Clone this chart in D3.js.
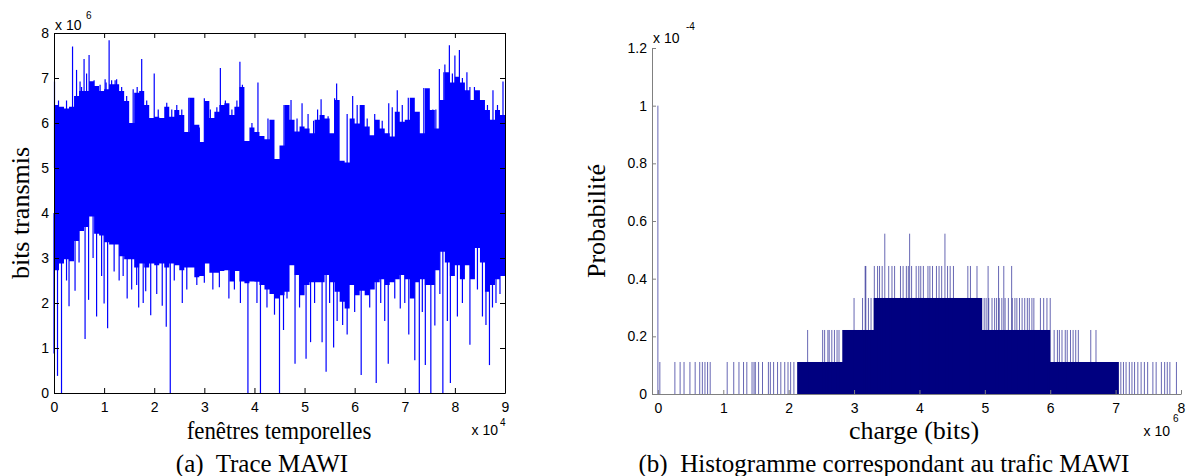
<!DOCTYPE html>
<html>
<head>
<meta charset="utf-8">
<script src="https://cdn.jsdelivr.net/npm/d3@7"></script>
<style>
  body { margin: 0; background: #fff; }
  text { white-space: pre; }
  .tick text { font-family: "Liberation Sans", Arial, sans-serif; font-size: 14px; fill: #000; }
  .lbl { font-family: "Liberation Serif", "Times New Roman", serif; fill: #000; }
</style>
</head>
<body>
<svg width="1187" height="476"></svg>
<script>
// ---------- (a) Trace MAWI : envelope of bits per 1000 windows (x in 1e4, y in 1e6)
let traceUpper = [6.4, 6.36, 6.32, 6.36, 6.6, 6.71, 6.71, 6.93, 6.82, 6.71,
  6.75, 6.86, 6.86, 6.71, 6.49, 6.0, 6.67, 6.71, 6.4, 6.11,
  6.14, 6.11, 6.36, 6.14, 6.29, 6.18, 5.8, 6.56, 5.96, 5.58,
  6.49, 6.11, 6.25, 6.4, 6.44, 6.18, 6.36, 6.8, 5.6, 5.9,
  5.8, 5.71, 5.64, 6.07, 5.2, 5.5, 6.4, 6.07, 5.81, 5.92,
  5.88, 5.77, 6.07, 6.18, 6.1, 5.77, 6.51, 5.16, 5.12, 6.1,
  5.99, 6.4, 5.92, 5.73, 6.07, 5.88, 5.77, 5.7, 6.25, 6.03,
  6.07, 6.56, 6.25, 5.77, 6.77, 6.29, 5.88, 6.51, 7.13, 6.9,
  7.03, 6.9, 6.73, 6.51, 6.73, 6.51, 6.29, 6.07, 6.29, 6.18];
let traceLower = [2.73, 2.88, 2.97, 2.93, 3.38, 3.6, 3.69, 3.92, 3.54, 3.5,
  3.35, 3.3, 3.3, 3.04, 2.97, 2.97, 2.79, 2.88, 2.79, 2.88,
  2.84, 2.88, 2.79, 2.88, 2.84, 2.73, 2.79, 2.79, 2.57, 2.6,
  2.88, 2.67, 2.67, 2.71, 2.73, 2.48, 2.71, 2.48, 2.44, 2.48,
  2.47, 2.4, 2.3, 2.2, 2.1, 2.17, 2.25, 2.84, 2.62, 2.17,
  2.4, 2.46, 2.46, 2.46, 2.62, 2.46, 2.25, 2.03, 1.88, 2.4,
  2.17, 2.27, 2.17, 2.3, 2.46, 2.53, 2.4, 2.46, 2.53, 2.62,
  2.53, 2.1, 2.46, 2.53, 2.4, 2.4, 2.73, 3.14, 2.9, 2.6,
  2.84, 2.53, 2.84, 2.53, 3.22, 2.9, 2.25, 2.4, 2.53, 2.6];
// isolated peaks [window (1e4), bits (1e6)]
let peaksUp = [[0.01, 6.92], [0.09, 6.5], [0.25, 6.5], [0.37, 7.7], [0.45, 7.18], [0.52, 6.92],
  [0.55, 6.8], [0.6, 7.42], [0.65, 7.1], [0.7, 7.51], [0.8, 6.95], [0.92, 6.85],
  [1.02, 6.97], [1.04, 6.9], [1.1, 7.84], [1.15, 6.95], [1.22, 6.95], [1.25, 6.97],
  [1.35, 6.8], [1.45, 6.6], [1.58, 6.75], [1.66, 6.8], [1.75, 7.42], [1.85, 6.5],
  [2.0, 7.1], [2.08, 6.3], [2.25, 6.45], [2.35, 6.3], [2.45, 6.4], [2.55, 6.3],
  [2.69, 6.56], [2.75, 6.4], [2.9, 5.9], [3.0, 6.55], [3.12, 6.3], [3.25, 6.35],
  [3.32, 7.22], [3.42, 6.5], [3.55, 6.3], [3.65, 6.5], [3.71, 7.36], [3.76, 6.85],
  [3.95, 6.0], [4.07, 6.9], [4.27, 6.1], [4.35, 5.9], [4.59, 6.4], [4.65, 6.2],
  [4.73, 6.51], [4.85, 6.1], [4.95, 6.44], [5.07, 6.2], [5.18, 6.05], [5.26, 6.3],
  [5.33, 6.53], [5.47, 6.15], [5.6, 6.55], [5.64, 6.88], [5.85, 6.2], [5.96, 6.6],
  [6.05, 6.4], [6.25, 6.1], [6.4, 6.2], [6.55, 6.05], [6.68, 6.44], [6.75, 6.35],
  [6.85, 6.73], [6.95, 6.4], [7.07, 6.56], [7.16, 6.51], [7.25, 6.2], [7.38, 6.78],
  [7.48, 6.3], [7.56, 6.3], [7.62, 6.3], [7.69, 7.2], [7.78, 7.13], [7.8, 7.3],
  [7.89, 7.73], [7.95, 7.1], [8.0, 7.5], [8.09, 7.62], [8.15, 7.0], [8.24, 7.13],
  [8.3, 6.8], [8.39, 6.8], [8.45, 6.6], [8.55, 6.5], [8.65, 6.4], [8.76, 6.73],
  [8.85, 6.4], [8.96, 6.92]];
let peaksDown = [[0.0, 0.88], [0.07, 0.38], [0.15, 0], [0.25, 2.5], [0.3, 1.93], [0.42, 2.27],
  [0.5, 2.9], [0.62, 1.2], [0.69, 2.07], [0.78, 3.0], [0.85, 1.7], [0.95, 2.6],
  [1.0, 1.99], [1.07, 1.44], [1.2, 2.7], [1.3, 2.5], [1.38, 2.6], [1.46, 2.1],
  [1.55, 2.3], [1.65, 2.4], [1.69, 1.9], [1.78, 2.0], [1.83, 2.26], [1.93, 1.73],
  [2.05, 2.2], [2.16, 1.94], [2.24, 1.47], [2.32, 0], [2.4, 2.5], [2.56, 2.0],
  [2.65, 2.3], [2.85, 2.4], [3.0, 2.45], [3.17, 2.3], [3.3, 2.35], [3.49, 2.1],
  [3.6, 2.3], [3.72, 2.0], [3.87, 0], [4.05, 2.0], [4.12, 0], [4.25, 1.9], [4.4, 1.74],
  [4.5, 0], [4.58, 1.4], [4.65, 2.1], [4.81, 0.65], [4.9, 1.9], [5.03, 0.76],
  [5.12, 1.13], [5.2, 2.0], [5.35, 1.13], [5.43, 0.47], [5.5, 2.0], [5.58, 1.01],
  [5.65, 1.6], [5.76, 1.51], [5.85, 1.3], [6.0, 1.8], [6.13, 0.4], [6.3, 1.9],
  [6.43, 0.22], [6.52, 2.0], [6.6, 1.6], [6.67, 0.65], [6.8, 2.1], [6.91, 1.88],
  [7.0, 2.0], [7.08, 1.3], [7.2, 0.73], [7.29, 0], [7.35, 1.8], [7.41, 0.62],
  [7.52, 0], [7.6, 1.5], [7.7, 2.2], [7.76, 0], [7.85, 1.6], [7.91, 0.22],
  [8.05, 1.7], [8.15, 2.0], [8.3, 1.07], [8.45, 2.3], [8.55, 1.7], [8.62, 1.51],
  [8.69, 0.62], [8.75, 1.9], [8.82, 2.0], [8.9, 2.2]];
let traceXTicks = [0, 1, 2, 3, 4, 5, 6, 7, 8, 9];
let traceYTicks = [0, 1, 2, 3, 4, 5, 6, 7, 8];

// ---------- (b) histogram : probability (1e-4) vs load (1e6 bits)
// solid runs [from, to, probability]
let histRuns = [[2.13, 7.05, 0.111], [2.82, 6.0, 0.222], [3.3, 4.96, 0.333]];
// single bins [load, probability]
let histLines = [
  [0.0, 1.0], [0.03, 0.111], [0.26, 0.111], [0.34, 0.111], [0.4, 0.111], [0.49, 0.111],
  [0.57, 0.111], [0.64, 0.111], [0.68, 0.111], [0.72, 0.111], [0.76, 0.111], [0.8, 0.111],
  [1.06, 0.111], [1.16, 0.111], [1.24, 0.111], [1.31, 0.111], [1.36, 0.111], [1.44, 0.111],
  [1.47, 0.111], [1.49, 0.111], [1.54, 0.111], [1.6, 0.111], [1.69, 0.111], [1.72, 0.111],
  [1.77, 0.111], [1.83, 0.111], [1.88, 0.111], [1.94, 0.111], [1.99, 0.111], [2.03, 0.111],
  [2.08, 0.111],
  [2.29, 0.222], [2.52, 0.222], [2.55, 0.222], [2.6, 0.222], [2.62, 0.222], [2.66, 0.222],
  [2.7, 0.222], [2.74, 0.222], [2.77, 0.222],
  [3.0, 0.333], [3.13, 0.333], [3.22, 0.333], [3.26, 0.333],
  [3.17, 0.444], [3.18, 0.444], [3.31, 0.444], [3.36, 0.444], [3.39, 0.444], [3.43, 0.444],
  [3.53, 0.444], [3.58, 0.444], [3.62, 0.444], [3.71, 0.444], [3.75, 0.444], [3.8, 0.444],
  [3.83, 0.444], [3.88, 0.444], [3.95, 0.444], [3.99, 0.444], [4.02, 0.444], [4.06, 0.444],
  [4.13, 0.444], [4.16, 0.444], [4.2, 0.444], [4.26, 0.444], [4.3, 0.444], [4.34, 0.444],
  [4.43, 0.444], [4.47, 0.444], [4.52, 0.444], [4.74, 0.444], [4.78, 0.444], [4.88, 0.444],
  [5.05, 0.444], [5.21, 0.444], [5.29, 0.444], [5.41, 0.444],
  [3.47, 0.556], [3.85, 0.556], [4.39, 0.556],
  [4.99, 0.333], [5.02, 0.333], [5.06, 0.333], [5.11, 0.333], [5.15, 0.333], [5.18, 0.333],
  [5.22, 0.333], [5.26, 0.333], [5.31, 0.333], [5.36, 0.333], [5.42, 0.333], [5.46, 0.333],
  [5.49, 0.333], [5.53, 0.333], [5.57, 0.333], [5.61, 0.333], [5.65, 0.333], [5.68, 0.333],
  [5.72, 0.333], [5.75, 0.333], [5.85, 0.333], [5.9, 0.333], [5.95, 0.333], [6.0, 0.333],
  [6.06, 0.222], [6.11, 0.222], [6.14, 0.222], [6.18, 0.222], [6.23, 0.222], [6.26, 0.222],
  [6.31, 0.222], [6.35, 0.222], [6.39, 0.222], [6.43, 0.222], [6.62, 0.222], [6.7, 0.222],
  [7.08, 0.111], [7.12, 0.111], [7.16, 0.111], [7.21, 0.111], [7.25, 0.111], [7.29, 0.111],
  [7.34, 0.111], [7.39, 0.111], [7.44, 0.111], [7.49, 0.111], [7.57, 0.111], [7.62, 0.111],
  [7.7, 0.111], [7.75, 0.111], [7.79, 0.111], [7.83, 0.111], [7.93, 0.111]];
let histXTicks = [0, 1, 2, 3, 4, 5, 6, 7, 8];
let histYTicks = [0, 0.2, 0.4, 0.6, 0.8, 1, 1.2];

let svg = d3.select('svg');
const sans = '"Liberation Sans", Arial, sans-serif';

// ================= left panel
let xA = d3.scaleLinear().domain([0, 9]).range([54, 505]);
let yA = d3.scaleLinear().domain([0, 8]).range([393, 33]);

let bins = traceUpper.map(function (d, i) { return { x: i / 10, hi: d, lo: traceLower[i] }; });
bins.push({ x: 9, hi: traceUpper[89], lo: traceLower[89] });

let area = d3.area()
  .curve(d3.curveStepAfter)
  .x(function (d) { return xA(d.x); })
  .y0(function (d) { return yA(d.lo); })
  .y1(function (d) { return yA(d.hi); });

let ga = svg.append('g');
ga.append('path').datum(bins).attr('d', area).attr('fill', '#0000ff');
ga.selectAll('line.up').data(peaksUp).join('line')
  .attr('x1', d => xA(d[0])).attr('x2', d => xA(d[0]))
  .attr('y1', yA(5)).attr('y2', d => yA(d[1]))
  .attr('stroke', '#0000ff').attr('stroke-width', 1.2);
ga.selectAll('line.dn').data(peaksDown).join('line')
  .attr('x1', d => xA(d[0])).attr('x2', d => xA(d[0]))
  .attr('y1', yA(4)).attr('y2', d => yA(d[1]))
  .attr('stroke', '#0000ff').attr('stroke-width', 1.2);

function styleAxis(g, col) {
  g.select('.domain').attr('stroke', col);
  g.selectAll('.tick line').attr('stroke', col);
  g.selectAll('.tick text').attr('fill', '#000');
}

svg.append('g').attr('transform', 'translate(0,393)')
  .call(d3.axisBottom(xA).tickValues(traceXTicks).tickSizeInner(-5).tickSizeOuter(0).tickPadding(9).tickFormat(d3.format('d')))
  .call(g => styleAxis(g, '#000'));
svg.append('g').attr('transform', 'translate(0,33)')
  .call(d3.axisTop(xA).tickValues(traceXTicks).tickSizeInner(-5).tickSizeOuter(0).tickFormat(''))
  .call(g => styleAxis(g, '#000'));
svg.append('g').attr('transform', 'translate(54,0)')
  .call(d3.axisLeft(yA).tickValues(traceYTicks).tickSizeInner(-5).tickSizeOuter(0).tickPadding(5).tickFormat(d3.format('d')))
  .call(g => styleAxis(g, '#000'));
svg.append('g').attr('transform', 'translate(505,0)')
  .call(d3.axisRight(yA).tickValues(traceYTicks).tickSizeInner(-5).tickSizeOuter(0).tickFormat(''))
  .call(g => styleAxis(g, '#000'));

// exponents
svg.append('text').attr('x', 55).attr('y', 30).style('font-family', sans).style('font-size', '14px').text('x 10');
svg.append('text').attr('x', 86).attr('y', 19).style('font-family', sans).style('font-size', '10px').text('6');
svg.append('text').attr('x', 498).attr('y', 435).attr('text-anchor', 'end').style('font-family', sans).style('font-size', '14px').text('x 10');
svg.append('text').attr('x', 500).attr('y', 426).style('font-family', sans).style('font-size', '10px').text('4');

svg.append('text').attr('class', 'lbl').attr('transform', 'translate(279,439) scale(0.88,1)').attr('text-anchor', 'middle')
  .style('font-size', '26px').text('fenêtres temporelles');
svg.append('text').attr('class', 'lbl').attr('transform', 'translate(29,213) rotate(-90)').attr('text-anchor', 'middle')
  .style('font-size', '26px').text('bits transmis');
svg.append('text').attr('class', 'lbl').attr('x', 262).attr('y', 472).attr('text-anchor', 'middle')
  .style('font-size', '25px').text('(a)  Trace MAWI');

// ================= right panel
let xB = d3.scaleLinear().domain([-0.09, 8]).range([652, 1181]);
let yB = d3.scaleLinear().domain([0, 1.2]).range([394, 48]);
const navy = '#000080';

let gb = svg.append('g');
gb.selectAll('rect').data(histRuns).join('rect')
  .attr('x', d => xB(d[0])).attr('width', d => xB(d[1]) - xB(d[0]))
  .attr('y', d => yB(d[2])).attr('height', d => yB(0) - yB(d[2]))
  .attr('fill', navy);
gb.selectAll('line').data(histLines).join('line')
  .attr('x1', d => xB(d[0])).attr('x2', d => xB(d[0]))
  .attr('y1', yB(0)).attr('y2', d => yB(d[1]))
  .attr('stroke', navy).attr('stroke-opacity', 0.6).attr('stroke-width', 1);

svg.append('g').attr('transform', 'translate(0,394)')
  .call(d3.axisBottom(xB).tickValues(histXTicks).tickSizeInner(-4).tickSizeOuter(0).tickPadding(9).tickFormat(d3.format('d')))
  .call(g => styleAxis(g, '#808080'));
svg.append('g').attr('transform', 'translate(652,0)')
  .call(d3.axisLeft(yB).tickValues(histYTicks).tickSizeInner(-4).tickSizeOuter(0).tickPadding(5).tickFormat(d3.format('~g')))
  .call(g => styleAxis(g, '#808080'));

svg.append('text').attr('x', 653).attr('y', 43).style('font-family', sans).style('font-size', '14px').text('x 10');
svg.append('text').attr('x', 686).attr('y', 30).style('font-family', sans).style('font-size', '10px').text('-4');
svg.append('text').attr('x', 1170).attr('y', 436).attr('text-anchor', 'end').style('font-family', sans).style('font-size', '14px').text('x 10');
svg.append('text').attr('x', 1173).attr('y', 422).style('font-family', sans).style('font-size', '10px').text('6');

svg.append('text').attr('class', 'lbl').attr('x', 914).attr('y', 439).attr('text-anchor', 'middle')
  .style('font-size', '26px').text('charge (bits)');
svg.append('text').attr('class', 'lbl').attr('transform', 'translate(605,221) rotate(-90)').attr('text-anchor', 'middle')
  .style('font-size', '26px').text('Probabilité');
svg.append('text').attr('class', 'lbl').attr('x', 884).attr('y', 472).attr('text-anchor', 'middle')
  .style('font-size', '25px').text('(b)  Histogramme correspondant au trafic MAWI');
</script>
</body>
</html>
